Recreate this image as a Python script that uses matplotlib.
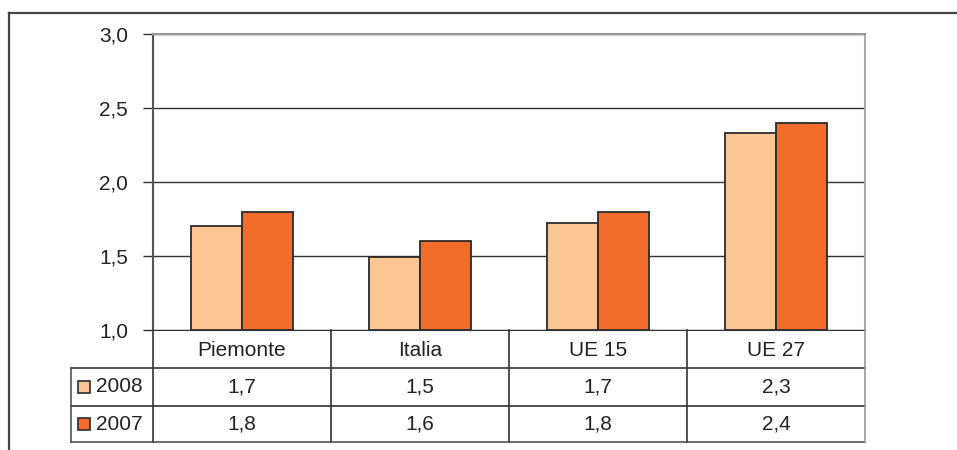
import numpy as np
import matplotlib.pyplot as plt
from matplotlib.lines import Line2D
from matplotlib.patches import Rectangle

plt.rcParams['font.family'] = ['Liberation Sans', 'DejaVu Sans']

categories = ['Piemonte', 'Italia', 'UE 15', 'UE 27']
series_names = ['2008', '2007']
values_2008 = [1.70, 1.49, 1.72, 2.33]
values_2007 = [1.80, 1.60, 1.80, 2.40]
labels_2008 = ['1,7', '1,5', '1,7', '2,3']
labels_2007 = ['1,8', '1,6', '1,8', '2,4']
yticks = [1.0, 1.5, 2.0, 2.5, 3.0]
ytick_labels = ['1,0', '1,5', '2,0', '2,5', '3,0']

c2008 = '#fdc795'
c2007 = '#f26d2b'
edge = '#2b2b2b'
fs = 15

W, H = 957, 450
fig = plt.figure(figsize=(W / 100, H / 100), dpi=100)

# plot area in pixels
x0, x1, y0, y1 = 153, 865, 34, 330


def fx(px):
    return px / W


def fy(py):
    return 1 - py / H


ax = fig.add_axes([fx(x0), fy(y1), fx(x1) - fx(x0), fy(y0) - fy(y1)])
n = np.arange(len(categories))
bw = 0.287
base = 1.0
ax.bar(n - bw / 2, np.array(values_2008) - base, bw, bottom=base, color=c2008, edgecolor=edge, linewidth=1.3, zorder=3)
ax.bar(n + bw / 2, np.array(values_2007) - base, bw, bottom=base, color=c2007, edgecolor=edge, linewidth=1.3, zorder=3)
ax.set_xlim(-0.5, len(categories) - 0.5)
ax.set_ylim(1.0, 3.0)
ax.set_yticks(yticks)
ax.set_yticklabels(ytick_labels, fontsize=fs, color='#222222')
ax.tick_params(axis='y', length=7, width=1, color='#333333', pad=11)
ax.set_xticks([])
ax.grid(axis='y', color='#333333', linewidth=1, zorder=0)
ax.spines['left'].set_color('#555555')
ax.spines['left'].set_linewidth(1.5)
ax.spines['top'].set_color('#999999')
ax.spines['top'].set_linewidth(1.5)
ax.spines['right'].set_color('#aaaaaa')
ax.spines['right'].set_linewidth(1.5)
ax.spines['bottom'].set_color('#333333')

# overlay in pixel coordinates for frame and data table
ov = fig.add_axes([0, 0, 1, 1])
ov.set_xlim(0, W)
ov.set_ylim(H, 0)
ov.axis('off')
ov.patch.set_alpha(0)


def line(xs, ys, color='#333333', lw=1.2):
    ov.add_line(Line2D(xs, ys, color=color, linewidth=lw))


# outer frame
line([9, 9], [13, H], color='#444444', lw=1.6)
line([9, W], [13, 13], color='#444444', lw=1.6)

# data table
hx = 71
colw = (x1 - x0) / len(categories)
r1, r2, r3 = 368, 406, 442
for yy in [r1, r2]:
    line([hx, x1], [yy, yy])
line([hx, x1], [r3, r3], color='#555555')
line([hx, hx], [r1, r3], color='#555555')
for i in range(len(categories) + 1):
    xx = x0 + i * colw
    col = '#999999' if i == len(categories) else '#333333'
    line([xx, xx], [y1, r3], color=col)

for i, cat in enumerate(categories):
    cx = x0 + (i + 0.5) * colw
    ov.text(cx, (y1 + r1) / 2 + 1, cat, ha='center', va='center', fontsize=fs, color='#222222')
    ov.text(cx, (r1 + r2) / 2, labels_2008[i], ha='center', va='center', fontsize=fs, color='#222222')
    ov.text(cx, (r2 + r3) / 2, labels_2007[i], ha='center', va='center', fontsize=fs, color='#222222')

for yy, name, col in [((r1 + r2) / 2, series_names[0], c2008), ((r2 + r3) / 2, series_names[1], c2007)]:
    ov.add_patch(Rectangle((78, yy - 6), 12, 12, facecolor=col, edgecolor=edge, linewidth=1.2))
    ov.text(96, yy, name, ha='left', va='center', fontsize=fs, color='#222222')

fig.savefig('out.png', dpi=100)
